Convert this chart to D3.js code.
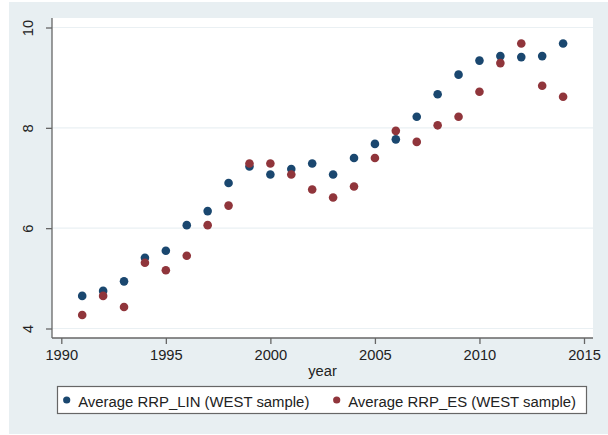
<!DOCTYPE html>
<html>
<head>
<meta charset="utf-8">
<script src="https://cdn.jsdelivr.net/npm/d3@7"></script>
<style>
  body { margin: 0; background: #fff; }
  svg { display: block; font-family: "Liberation Sans", Arial, sans-serif; }
</style>
</head>
<body>
<svg width="608" height="435"></svg>
<script>
// data
var years = [1991, 1992, 1993, 1994, 1995, 1996, 1997, 1998, 1999, 2000, 2001, 2002,
             2003, 2004, 2005, 2006, 2007, 2008, 2009, 2010, 2011, 2012, 2013, 2014];
var rrpLin = [4.65, 4.75, 4.94, 5.41, 5.55, 6.06, 6.34, 6.90, 7.23, 7.07, 7.18, 7.29,
              7.07, 7.40, 7.68, 7.77, 8.22, 8.67, 9.06, 9.34, 9.43, 9.41, 9.43, 9.68];
var rrpEs = [4.27, 4.65, 4.43, 5.31, 5.16, 5.45, 6.06, 6.45, 7.29, 7.29, 7.07, 6.77,
             6.61, 6.83, 7.40, 7.94, 7.72, 8.05, 8.22, 8.72, 9.29, 9.68, 8.84, 8.62];
var xTicks = [1990, 1995, 2000, 2005, 2010, 2015];
var yTicks = [4, 6, 8, 10];
var seriesNames = ["Average RRP_LIN (WEST sample)", "Average RRP_ES (WEST sample)"];
var seriesColors = ["#1a476f", "#90353b"];

var svg = d3.select("svg");

// outer graph region
svg.append("rect")
   .attr("x", 9).attr("y", 2)
   .attr("width", 599).attr("height", 432)
   .attr("fill", "#e8eff2");

var plotLeft = 52, plotRight = 593, plotTop = 18, plotBottom = 338;

svg.append("rect")
   .attr("x", plotLeft).attr("y", plotTop)
   .attr("width", plotRight - plotLeft).attr("height", plotBottom - plotTop)
   .attr("fill", "#fff");

var x = d3.scaleLinear().domain([1990, 2015]).range([61.3, 584]);
var y = d3.scaleLinear().domain([4, 10]).range([328.5, 27.5]);

// grid lines
svg.append("g")
   .selectAll("line")
   .data(yTicks)
   .enter().append("line")
   .attr("x1", plotLeft).attr("x2", plotRight)
   .attr("y1", function(d) { return y(d); })
   .attr("y2", function(d) { return y(d); })
   .attr("stroke", "#eaf0f3")
   .attr("stroke-width", 1.2);

// y axis
var yAxis = svg.append("g")
   .attr("transform", "translate(" + plotLeft + ",0)")
   .call(d3.axisLeft(y).tickValues(yTicks).tickSize(6).tickPadding(0).tickFormat(d3.format("d")));
yAxis.select(".domain").attr("d", "M0," + plotTop + "V" + plotBottom).attr("stroke", "#666").attr("stroke-width", 1.3);
yAxis.selectAll(".tick line").attr("stroke", "#666").attr("stroke-width", 1.3);
yAxis.selectAll(".tick text")
   .attr("x", 0).attr("y", 0).attr("dy", null)
   .attr("transform", "translate(-19,0) rotate(-90)")
   .attr("text-anchor", "middle")
   .attr("fill", "#222")
   .style("font-size", "14.7px")
   .attr("font-family", null);

// x axis
var xAxis = svg.append("g")
   .attr("transform", "translate(0," + plotBottom + ")")
   .call(d3.axisBottom(x).tickValues(xTicks).tickSize(6).tickPadding(6).tickFormat(d3.format("d")));
xAxis.select(".domain").attr("d", "M" + plotLeft + ",0H" + plotRight).attr("stroke", "#666").attr("stroke-width", 1.3);
xAxis.selectAll(".tick line").attr("stroke", "#666").attr("stroke-width", 1.3);
xAxis.selectAll(".tick text")
   .attr("fill", "#222")
   .style("font-size", "14.7px")
   .attr("font-family", null);

svg.append("text")
   .attr("x", (plotLeft + plotRight) / 2)
   .attr("y", 376)
   .attr("text-anchor", "middle")
   .attr("fill", "#222")
   .style("font-size", "14.7px")
   .text("year");

// points
var allSeries = [rrpLin, rrpEs];
allSeries.forEach(function(vals, s) {
  svg.append("g")
     .selectAll("circle")
     .data(vals)
     .enter().append("circle")
     .attr("cx", function(d, i) { return x(years[i]); })
     .attr("cy", function(d) { return y(d); })
     .attr("r", 4.3)
     .attr("fill", seriesColors[s]);
});

// legend
svg.append("rect")
   .attr("x", 57.5).attr("y", 386.5)
   .attr("width", 529).attr("height", 27)
   .attr("fill", "#fff")
   .attr("stroke", "#666")
   .attr("stroke-width", 1.2);

var legendX = [66.7, 336.7];
seriesNames.forEach(function(name, s) {
  svg.append("circle")
     .attr("cx", legendX[s]).attr("cy", 400)
     .attr("r", 3.6)
     .attr("fill", seriesColors[s]);
  svg.append("text")
     .attr("x", legendX[s] + 11.5)
     .attr("y", 407)
     .attr("fill", "#222")
     .style("font-size", "14.9px")
     .text(name);
});
</script>
</body>
</html>
